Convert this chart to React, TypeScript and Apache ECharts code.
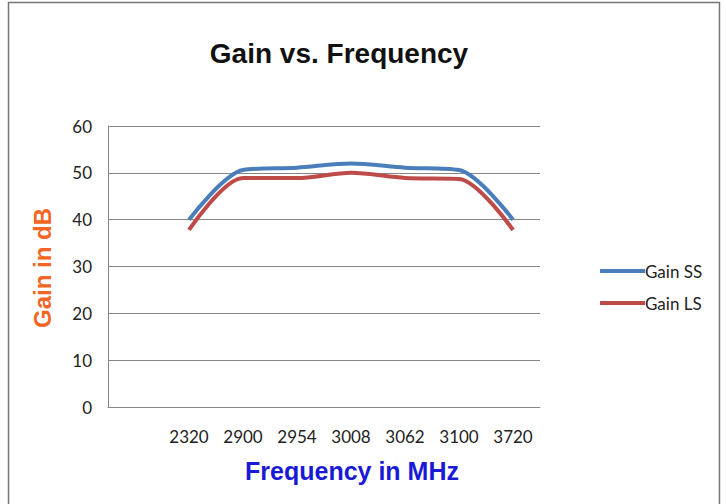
import React, { useEffect, useRef } from "react";
import * as echarts from "echarts";

const categories = ["", "2320", "2900", "2954", "3008", "3062", "3100", "3720"];
const gainSS = [null, 40, 50.6, 51.1, 52.0, 51.1, 50.6, 40];
const gainLS = [null, 37.8, 48.9, 48.9, 50.0, 48.9, 48.7, 37.8];
const yTicks = { min: 0, max: 60, interval: 10 };

export default function App() {
  const ref = useRef<HTMLDivElement>(null);
  useEffect(() => {
    if (!ref.current) return;
    const chart = echarts.init(ref.current, undefined, { renderer: "svg" });
    chart.setOption({
      animation: false,
      backgroundColor: "#ffffff",
      title: {
        text: "Gain vs. Frequency",
        left: 334,
        textAlign: "center",
        top: 34,
        textStyle: { fontFamily: "Liberation Sans", fontWeight: "bold", fontSize: 28, color: "#111" },
      },
      graphic: [
        {
          type: "rect",
          shape: { x: 8.5, y: 2.5, width: 711, height: 510 },
          style: { fill: "none", stroke: "#777", lineWidth: 1.5 },
          silent: true,
        },
        {
          type: "text",
          x: 42,
          y: 268,
          rotation: Math.PI / 2,
          style: {
            text: "Gain in dB",
            fontFamily: "Liberation Sans",
            fontWeight: "bold",
            fontSize: 24,
            fill: "#F26522",
            align: "center",
            verticalAlign: "middle",
          },
        },
        {
          type: "text",
          x: 352,
          y: 471,
          style: {
            text: "Frequency in MHz",
            fontFamily: "Liberation Sans",
            fontWeight: "bold",
            fontSize: 25,
            fill: "#1A1AD6",
            align: "center",
            verticalAlign: "middle",
          },
        },
      ],
      legend: {
        orient: "vertical",
        left: 595,
        top: 256,
        itemWidth: 45,
        itemHeight: 4,
        itemGap: 12,
        icon: "rect",
        textStyle: { fontFamily: "Lato", fontSize: 17, lineHeight: 20, color: "#222", padding: [0, 0, 0, -5] },
        data: ["Gain SS", "Gain LS"],
      },
      grid: { left: 108, right: 186, top: 126, bottom: 97 },
      xAxis: {
        type: "category",
        data: categories,
        boundaryGap: true,
        axisLine: { show: true, lineStyle: { color: "#868686" } },
        axisTick: { show: false },
        axisLabel: { fontFamily: "Lato", fontSize: 17, color: "#222", margin: 21, interval: 0 },
      },
      yAxis: {
        type: "value",
        min: yTicks.min,
        max: yTicks.max,
        interval: yTicks.interval,
        axisLine: { show: true, lineStyle: { color: "#868686" } },
        axisTick: { show: false },
        splitLine: { lineStyle: { color: "#868686", width: 1 } },
        axisLabel: { fontFamily: "Lato", fontSize: 17, color: "#222", margin: 16 },
      },
      series: [
        {
          name: "Gain SS",
          type: "line",
          data: gainSS,
          smooth: 0.3,
          showSymbol: false,
          lineStyle: { width: 4, color: "#4A7EBB" },
          itemStyle: { color: "#4A7EBB" },
        },
        {
          name: "Gain LS",
          type: "line",
          data: gainLS,
          smooth: 0.3,
          showSymbol: false,
          lineStyle: { width: 4, color: "#BE4B48" },
          itemStyle: { color: "#BE4B48" },
        },
      ],
    });
    return () => chart.dispose();
  }, []);
  return (
    <div
      ref={ref}
      style={{ position: "fixed", left: 0, top: 0, width: 726, height: 504 }}
    />
  );
}
